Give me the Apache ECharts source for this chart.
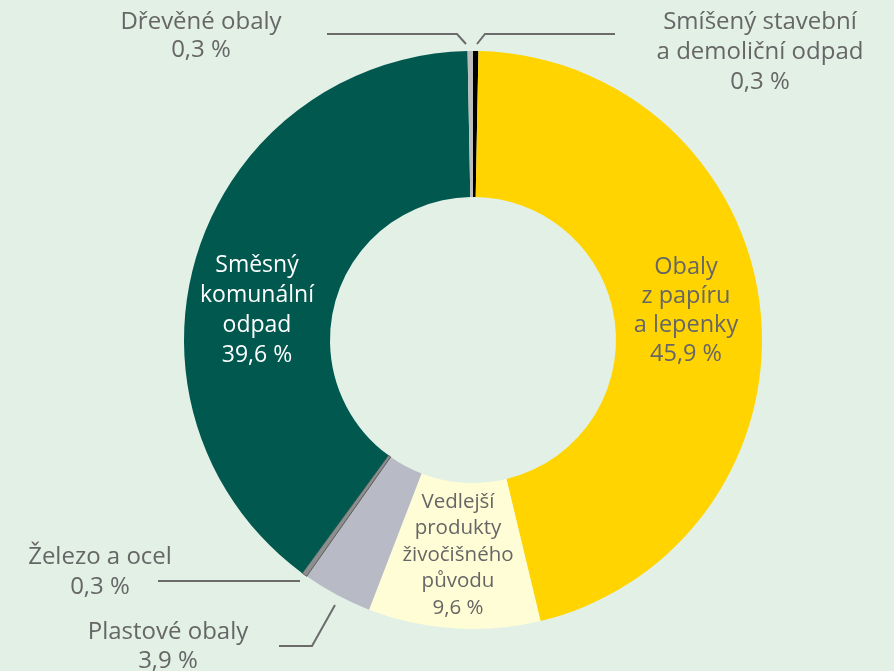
<!DOCTYPE html>
<html>
<head>
<meta charset="utf-8">
<script src="https://cdn.jsdelivr.net/npm/echarts@6/dist/echarts.min.js"></script>
<style>
html,body{margin:0;padding:0;background:#E2F0E6;}
#c{width:894px;height:671px;}
</style>
</head>
<body>
<div id="c"></div>
<script>
const categories = ['Smíšený stavební a demoliční odpad','Obaly z papíru a lepenky','Vedlejší produkty živočišného původu','Plastové obaly','Železo a ocel','Směsný komunální odpad','Dřevěné obaly'];
const labelTexts = ['Smíšený stavební\na demoliční odpad','Obaly\nz papíru\na lepenky','Vedlejší\nprodukty\nživočišného\npůvodu','Plastové obaly','Železo a ocel','Směsný\nkomunální\nodpad','Dřevěné obaly'];
const values = [0.3, 45.9, 9.6, 3.9, 0.3, 39.6, 0.3];

const colors = ['#000000','#FFD400','#FFFDD6','#B8BBC6','#8E8E8E','#00584F','#BDBDBD'];
const inside = [false,true,true,false,false,true,false];
const labelColors = ['#666','#666','#666','#666','#666','#fff','#666'];
const fontSizes = [24,23.5,20.5,24,24,23,24];
const lineHeights = [30,29,26.5,29,30,30,28];
const labelPos = [
  {x:760,y:52, pts:[[615,34],[485,34],[477,44]]},
  {x:686,y:311},
  {x:458,y:555},
  {x:168,y:647, pts:[[279,646],[312,646],[335,605]]},
  {x:100,y:572, pts:[[158,581],[298,581],[300,581]]},
  {x:257,y:310},
  {x:201,y:36, pts:[[327,34],[457,34],[466,44]]}
];

function fmt(v){ return v.toFixed(1).replace('.', ',') + ' %'; }

const data = categories.map((name,i)=>({
  name: name,
  value: values[i],
  itemStyle: i === 4 ? {color: colors[i], borderColor: '#222', borderWidth: 0.6} : {color: colors[i]},
  label: {
    position: inside[i] ? 'inside' : 'outside',
    formatter: labelTexts[i] + '\n' + fmt(values[i]),
    color: labelColors[i],
    fontSize: fontSizes[i],
    lineHeight: lineHeights[i]
  },
  labelLine: {show: !inside[i]}
}));

const chart = echarts.init(document.getElementById('c'));
chart.setOption({
  backgroundColor: '#E2F0E6',
  animation: false,
  series: [{
    type: 'pie',
    center: [473, 340],
    radius: [143, 289],
    startAngle: 90,
    clockwise: true,
    avoidLabelOverlap: false,
    label: {
      show: true,
      fontFamily: 'Open Sans',
      align: 'center'
    },
    labelLine: {
      show: true,
      lineStyle: {color: '#6B6B6B', width: 2}
    },
    labelLayout: function(p){
      const lp = labelPos[p.dataIndex];
      const r = {x: lp.x, y: lp.y, align: 'center', verticalAlign: 'middle'};
      if (lp.pts) r.labelLinePoints = lp.pts;
      return r;
    },
    data: data
  }]
});
</script>
</body>
</html>
